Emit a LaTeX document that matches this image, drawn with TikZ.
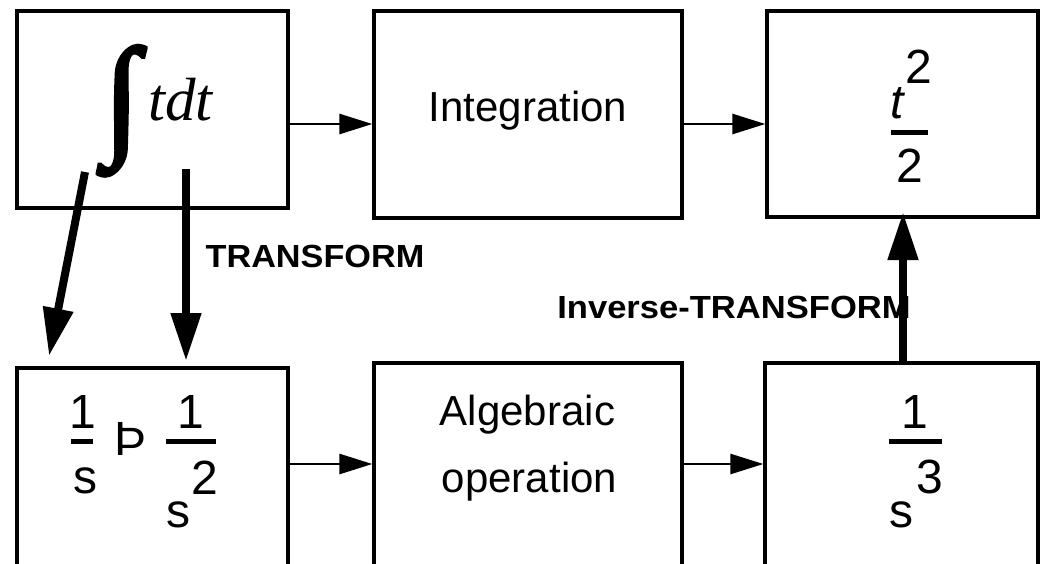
\documentclass[tikz,border=0pt]{standalone}
\usepackage{fontspec}
\usepackage{graphicx}
\setmainfont{Liberation Sans}
\newfontfamily\timesfont{Liberation Serif}
\newfontfamily\intfont[FakeBold=3]{Liberation Serif}
\usetikzlibrary{arrows.meta}
\newcommand{\fs}[1]{\fontsize{#1pt}{#1pt}\selectfont}
\begin{document}
\begin{tikzpicture}[x=1pt,y=-1pt,
  box/.style={draw,line width=3.3pt,inner sep=0pt},
  thinarr/.style={line width=2.7pt,-{Triangle[length=33pt,width=20pt]}},
  thickarr/.style={line width=8pt,-{Triangle[length=48pt,width=29pt]}},
  txt/.style={inner sep=0pt,anchor=base},
  big/.style={txt,font=\fs{48}},
  mid/.style={txt,font=\fs{42}},
  lab/.style={txt,font=\fs{32}\bfseries},
  fracbar/.style={line width=5pt}]
\useasboundingbox (0,0) rectangle (1042,563);
\clip (0,0) rectangle (1042,563);
% boxes
\node[box,minimum width=271pt,minimum height=197pt] (b1) at (152.5,109.5) {};
\node[box,minimum width=308pt,minimum height=207pt] (b2) at (528,114.5) {};
\node[box,minimum width=271pt,minimum height=206pt] (b3) at (902.5,114) {};
\node[box,minimum width=271pt,minimum height=232pt] (b4) at (152.5,484) {};
\node[box,minimum width=308pt,minimum height=237pt] (b5) at (528,481.5) {};
\node[box,minimum width=273pt,minimum height=237pt] (b6) at (901.5,481.5) {};
% box 1 content
\node[inner sep=0pt,anchor=south west] (int) at (104,176) {\resizebox*{35pt}{130pt}{\intfont ∫}};
\node[txt,anchor=base west,font=\fs{61}\timesfont\itshape] (tdt) at (148,120) {tdt};
% box 2
\node[mid] (integ) at (528,121) {Integration};
% box 3
\node[big,font=\fs{48}\itshape] (t) at (897,118) {t};
\node[big] (sq) at (919,83) {2};
\draw[fracbar] (891,132) -- (928,132);
\node[big] (two) at (910,182) {2};
% box 4
\node[big] (o1) at (83,428) {1};
\draw[fracbar] (71,441) -- (93,441);
\node[big] (s1) at (85,493) {s};
\node[big] (th) at (131,455) {Þ};
\node[big] (o2) at (190.5,428) {1};
\draw[fracbar] (166,441) -- (216,441);
\node[big] (e2) at (204.5,494) {2};
\node[big] (s2) at (178,527) {s};
% box 5
\node[mid] (alg) at (527.5,425) {Algebraic};
\node[mid] (op) at (529.5,492) {operation};
% box 6
\node[big] (o3) at (914.5,428) {1};
\draw[fracbar] (889,441) -- (942,441);
\node[big] (e3) at (929.5,493) {3};
\node[big] (s3) at (901,527) {s};
% labels
\node[lab] (tr) at (315,267) {\scalebox{1.07}[1]{TRANSFORM}};
\node[lab] (itr) at (734,318) {\scalebox{1.08}[1]{Inverse-TRANSFORM}};
% row connectors
\coordinate (r1) at (0,124);
\coordinate (r2) at (0,464);
\draw[thinarr] (b1.east |- r1) -- (b2.west |- r1);
\draw[thinarr] (b2.east |- r1) -- (b3.west |- r1);
\draw[thinarr] (b4.east |- r2) -- (b5.west |- r2);
\draw[thinarr] (b5.east |- r2) -- (b6.west |- r2);
% thick arrows
\coordinate (sa) at (85,172);
\coordinate (sb) at (49,356);
\coordinate (va) at (186,169);
\coordinate (vb) at (186,361);
\coordinate (ua) at (903,365);
\coordinate (ub) at (903,212);
\draw[thickarr] (sa) -- (sb);
\draw[thickarr] (va) -- (vb);
\draw[thickarr] (ua) -- (ub);
\end{tikzpicture}
\end{document}
